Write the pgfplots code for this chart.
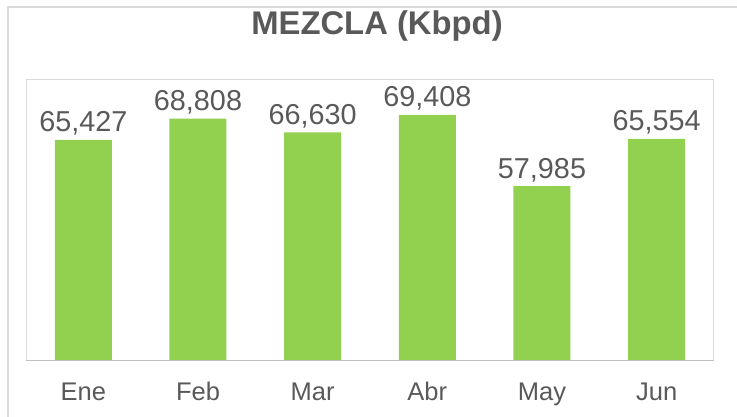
\documentclass[border=0pt]{standalone}
\usepackage{pgfplots}
\pgfplotsset{compat=1.18}
\usepackage{fontspec}
\setmainfont{Liberation Sans}
\definecolor{barg}{RGB}{146,208,80}
\definecolor{txt}{RGB}{89,89,89}
\definecolor{brd}{RGB}{217,217,217}
\definecolor{axl}{RGB}{191,191,191}
\begin{document}
\begin{tikzpicture}[x=1pt,y=1pt]
\path[use as bounding box] (0,0) rectangle (737,417);
\draw[brd, line width=1.2pt] (8,0) -- (8,410) -- (737,410);
\node[anchor=base, text=txt, font=\bfseries\fontsize{32.8}{38}\selectfont] at (377,382) {MEZCLA (Kbpd)};
\begin{axis}[at={(26pt,56pt)}, anchor=south west, scale only axis,
  width=688pt, height=281pt,
  ybar, bar width=57pt,
  ymin=30000, ymax=75000, xmin=-0.5, xmax=5.5,
  axis line style={draw=brd, line width=1pt},
  xtick=data, xticklabels={Ene,Feb,Mar,Abr,May,Jun},
  ytick=\empty, major tick length=0pt,
  xticklabel style={font=\fontsize{25.5}{28}\selectfont, text=txt, anchor=base, yshift=-40pt},
  nodes near coords,
  /pgf/number format/.cd, fixed, 1000 sep={,}, assume math mode=true,
  /pgfplots/.cd,
  every node near coord/.append style={font=\fontsize{28.8}{32}\selectfont, text=txt, anchor=base, inner sep=0pt, yshift=8pt},
]
\addplot[draw=none, fill=barg] coordinates {(0,65427) (1,68808) (2,66630) (3,69408) (4,57985) (5,65554)};
\draw[axl, line width=1.2pt] (rel axis cs:0,0) -- (rel axis cs:1,0);
\end{axis}
\end{tikzpicture}
\end{document}
